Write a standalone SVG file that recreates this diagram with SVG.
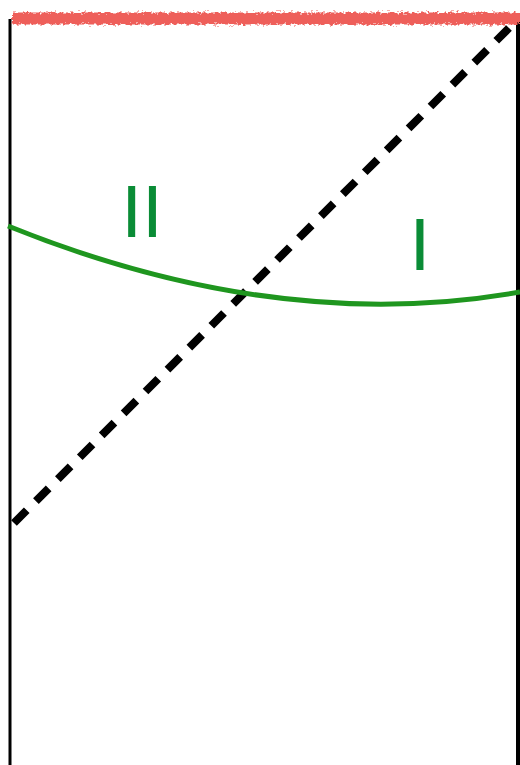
<svg xmlns="http://www.w3.org/2000/svg" width="520" height="765" viewBox="0 0 520 765">
  <defs>
    <filter id="rough" filterUnits="userSpaceOnUse" x="0" y="0" width="520" height="40">
      <feTurbulence type="fractalNoise" baseFrequency="0.3 0.5" numOctaves="2" seed="3" result="n"/>
      <feDisplacementMap in="SourceGraphic" in2="n" scale="7" xChannelSelector="R" yChannelSelector="G"/>
    </filter>
  </defs>
  <style>
    .wall { stroke: #000; fill: none; }
    .dash { stroke: #000; stroke-width: 8; stroke-dasharray: 18 13; fill: none; }
    .curve { stroke: #1f961f; stroke-width: 5; fill: none; }
    .lbl { font-family: "Liberation Sans", Arial, sans-serif; font-size: 75px; fill: #0a8c36; }
  </style>
  <rect width="520" height="765" fill="#fff"/>
  <g id="boundary">
    <line class="wall" x1="10" y1="19" x2="10" y2="765" stroke-width="3"/>
    <line class="wall" x1="518" y1="19" x2="518" y2="765" stroke-width="4"/>
  </g>
  <g id="surface">
    <rect x="12" y="12.5" width="508" height="12" fill="#ee5f5a" filter="url(#rough)"/>
  </g>
  <g id="connectors">
    <line class="dash" x1="14" y1="523" x2="518" y2="19"/>
    <path class="curve" d="M8,226 Q278,335 520,292"/>
  </g>
  <g id="region-II">
    <text class="lbl" x="142" y="237" text-anchor="middle">II</text>
  </g>
  <g id="region-I">
    <text class="lbl" x="420" y="270" text-anchor="middle">I</text>
  </g>
</svg>
